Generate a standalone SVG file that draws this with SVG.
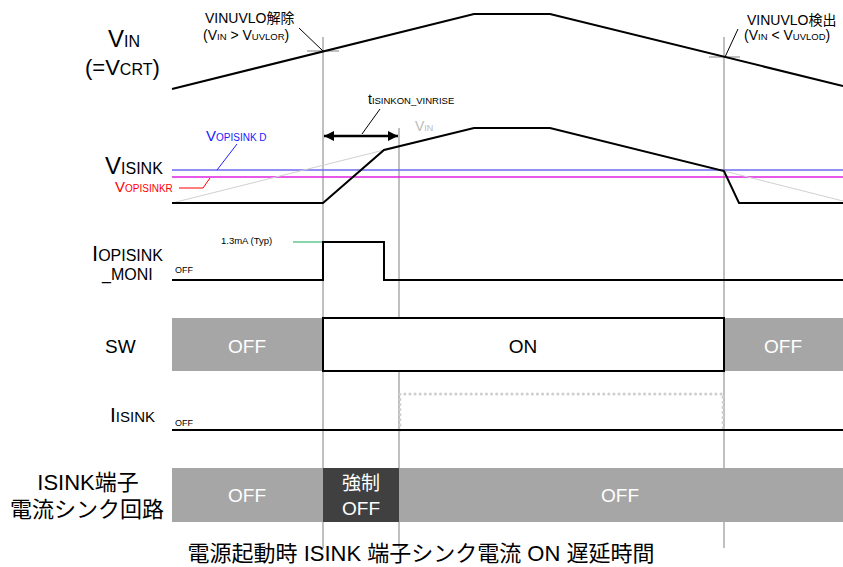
<svg xmlns="http://www.w3.org/2000/svg" width="843" height="567" viewBox="0 0 843 567">
<style>
text{font-family:"Liberation Sans","Noto Sans CJK JP",Arial,sans-serif;fill:#000}
.grid{stroke:#c0c0c0;stroke-width:2;fill:none}
.sig{stroke:#000;stroke-width:2;fill:none;stroke-linejoin:miter}
.faint{stroke:#d0d0d0;stroke-width:1;fill:none}
.wt{fill:#fff;font-size:19px;text-anchor:middle}
</style>
<defs>
<marker id="ah" viewBox="0 0 10 10" refX="10" refY="5" markerWidth="10" markerHeight="10" markerUnits="userSpaceOnUse" orient="auto-start-reverse">
<path d="M0,0 L10,5 L0,10 z" fill="#000"/>
</marker>
</defs>
<rect width="843" height="567" fill="#fff"/>

<g id="grid">
<line class="grid" x1="323" y1="37" x2="323" y2="548"/>
<line class="grid" x1="399" y1="128" x2="399" y2="548"/>
<line class="grid" x1="724" y1="37" x2="724" y2="548"/>
<line class="grid" x1="307" y1="51" x2="339" y2="51"/>
<line class="grid" x1="709" y1="57" x2="740" y2="57"/>
</g>

<g id="row-labels">
<text x="108" y="47"><tspan font-size="24">V</tspan><tspan font-size="16">IN</tspan></text>
<text x="85" y="75"><tspan font-size="22">(=V</tspan><tspan font-size="16">CRT</tspan><tspan font-size="22">)</tspan></text>
<text x="105" y="174"><tspan font-size="24">V</tspan><tspan font-size="16">ISINK</tspan></text>
<text x="115" y="192"><tspan font-size="15" fill="#ff0000">V</tspan><tspan font-size="10" fill="#ff0000">OPISINKR</tspan></text>
<text x="92" y="261"><tspan font-size="22">I</tspan><tspan font-size="16">OPISINK</tspan></text>
<text x="102" y="280" font-size="16">_MONI</text>
<text x="105" y="353" font-size="19">SW</text>
<text x="110" y="422"><tspan font-size="21">I</tspan><tspan font-size="15">ISINK</tspan></text>
<text x="88" y="490" font-size="22" text-anchor="middle">ISINK端子</text>
<text x="87" y="517" font-size="22" text-anchor="middle">電流シンク回路</text>
</g>

<g id="vin">
<polyline class="sig" points="172,89 474,14 550,14 843,86"/>
<text x="205" y="23" font-size="14">VINUVLO解除</text>
<text x="203" y="40"><tspan font-size="14">(V</tspan><tspan font-size="9.5">IN</tspan><tspan font-size="14"> &gt; V</tspan><tspan font-size="9.5">UVLOR</tspan><tspan font-size="14">)</tspan></text>
<line x1="299" y1="28" x2="323" y2="51" stroke="#000" stroke-width="1"/>
<text x="747" y="25" font-size="14">VINUVLO検出</text>
<text x="744" y="40"><tspan font-size="14">(V</tspan><tspan font-size="9.5">IN</tspan><tspan font-size="14"> &lt; V</tspan><tspan font-size="9.5">UVLOD</tspan><tspan font-size="14">)</tspan></text>
<line x1="738" y1="29" x2="725" y2="57" stroke="#000" stroke-width="1"/>
</g>

<g id="visink">
<line x1="172" y1="170" x2="843" y2="170" stroke="#6a6af0" stroke-width="1.5"/>
<line x1="172" y1="177" x2="843" y2="177" stroke="#e020e0" stroke-width="1.5"/>
<line class="faint" x1="172" y1="203" x2="384" y2="150"/>
<line class="faint" x1="724" y1="171" x2="843" y2="201"/>
<polyline class="sig" points="172,203 323,203 384,150 474,128 550,128 724,171 739,203 843,203"/>
<text x="206" y="141"><tspan font-size="15" fill="#2020ff">V</tspan><tspan font-size="10" fill="#2020ff">OPISINK D</tspan></text>
<line x1="237" y1="144" x2="217" y2="170" stroke="#2020ff" stroke-width="1"/>
<polyline points="179,188 203,188 210,178" fill="none" stroke="#ff0000" stroke-width="1"/>
<text x="415" y="131"><tspan font-size="14" fill="#bbbbbb">V</tspan><tspan font-size="9" fill="#bbbbbb">IN</tspan></text>
</g>

<g id="tdelay">
<line x1="324" y1="136" x2="398" y2="136" stroke="#000" stroke-width="2.5" marker-start="url(#ah)" marker-end="url(#ah)"/>
<line x1="362" y1="134" x2="380" y2="109" stroke="#000" stroke-width="1"/>
<text x="368" y="104"><tspan font-size="14">t</tspan><tspan font-size="9.5">ISINKON_VINRISE</tspan></text>
</g>

<g id="iopisink">
<polyline class="sig" points="172,280 323,280 323,242 384,242 384,280 843,280"/>
<line x1="293" y1="242" x2="322" y2="242" stroke="#60c890" stroke-width="1.5"/>
<text x="221" y="244" font-size="9.5">1.3mA (Typ)</text>
<text x="175" y="273" font-size="9">OFF</text>
</g>

<g id="sw">
<rect x="172" y="318" width="151" height="53" fill="#a6a6a6"/>
<rect x="724" y="318" width="119" height="53" fill="#a6a6a6"/>
<rect x="323" y="318" width="401" height="53" fill="#fff" stroke="#000" stroke-width="2"/>
<text class="wt" x="247" y="353">OFF</text>
<text x="523" y="353" font-size="19" text-anchor="middle">ON</text>
<text class="wt" x="783" y="353">OFF</text>
</g>

<g id="isink">
<polyline points="400,430 400,394 723,394 723,430" fill="none" stroke="#cfcfcf" stroke-width="3" stroke-dasharray="0.1 5" stroke-linecap="round"/>
<line class="sig" x1="172" y1="430" x2="843" y2="430"/>
<text x="175" y="426" font-size="9">OFF</text>
</g>

<g id="circuit">
<rect x="172" y="468" width="671" height="54" fill="#a6a6a6"/>
<rect x="323" y="468" width="76" height="54" fill="#404040"/>
<text class="wt" x="247" y="502">OFF</text>
<text class="wt" x="361" y="490">強制</text>
<text class="wt" x="361" y="515">OFF</text>
<text class="wt" x="620" y="502">OFF</text>
</g>

<text x="421" y="561" font-size="22" text-anchor="middle">電源起動時 ISINK 端子シンク電流 ON 遅延時間</text>
</svg>
